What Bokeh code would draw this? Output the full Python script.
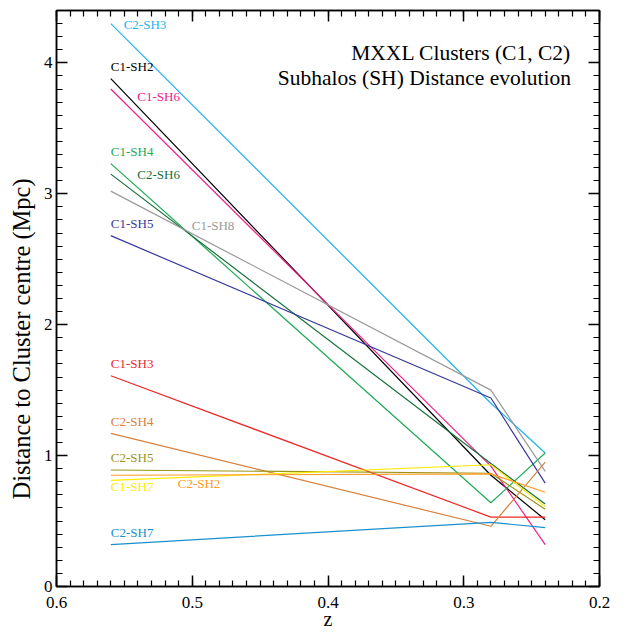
from bokeh.plotting import figure
from bokeh.models import Range1d, LinearAxis, FixedTicker, Label, Title, ColumnDataSource, CustomLabelingPolicy
from bokeh.core.properties import value
from bokeh.embed import file_html
from bokeh.resources import INLINE

# ---- data ----
redshift = [0.56, 0.28, 0.24]

c1_sh2 = [3.88, 0.85, 0.51]
c1_sh3 = [1.61, 0.53, 0.53]
c1_sh4 = [3.23, 0.64, 1.02]
c1_sh5 = [2.68, 1.44, 0.79]
c1_sh6 = [3.80, 0.92, 0.32]
c1_sh7 = [0.81, 0.93, 0.61]
c1_sh8 = [3.02, 1.50, 0.88]
c2_sh2 = [0.85, 0.86, 0.72]
c2_sh3 = [4.30, 1.40, 1.02]
c2_sh4 = [1.17, 0.46, 0.95]
c2_sh5 = [0.89, 0.865, 0.59]
c2_sh6 = [3.15, 0.94, 0.63]
c2_sh7 = [0.32, 0.49, 0.45]

names = ["C2-SH3", "C1-SH2", "C1-SH6", "C1-SH4", "C2-SH6", "C1-SH8", "C1-SH5",
         "C1-SH3", "C2-SH4", "C2-SH5", "C1-SH7", "C2-SH2", "C2-SH7"]
series = [c2_sh3, c1_sh2, c1_sh6, c1_sh4, c2_sh6, c1_sh8, c1_sh5,
          c1_sh3, c2_sh4, c2_sh5, c1_sh7, c2_sh2, c2_sh7]
colors = ["#20b4ee", "#000000", "#f0208c", "#1eaa55", "#17703c", "#9a9a9a", "#38389c",
          "#ee2828", "#d8803c", "#9c9418", "#ffea00", "#ff9a28", "#1a90cc"]

# label anchor positions (z, distance)
label_z = [0.5505, 0.56, 0.5405, 0.56, 0.5405, 0.5004, 0.56,
           0.56, 0.56, 0.56, 0.56, 0.5107, 0.56]
label_y = [4.28, 3.96, 3.73, 3.31, 3.135, 2.746, 2.758,
           1.69, 1.248, 0.969, 0.745, 0.775, 0.394]

x_ticks = [0.6, 0.5, 0.4, 0.3, 0.2]
y_ticks = [0, 1, 2, 3, 4]
x_minor = [round(0.2 + 0.01 * i, 2) for i in range(41)]
y_minor = [round(0.1 * i, 1) for i in range(45)]

x_title = "z"
y_title = "Distance to Cluster centre (Mpc)"
title_1 = "MXXL Clusters (C1, C2)"
title_2 = "Subhalos (SH) Distance evolution"

FONT = "Liberation Serif"

p = figure(frame_width=543, frame_height=576,
           min_border_left=56, min_border_right=24, min_border_top=7, min_border_bottom=0,
           x_range=Range1d(0.6, 0.2), y_range=Range1d(0, 4.4),
           output_backend="svg", toolbar_location=None)
p.xgrid.visible = False
p.ygrid.visible = False
p.outline_line_color = "black"
p.outline_line_width = 1.5
p.background_fill_color = "white"
p.border_fill_color = "white"

no_labels = CustomLabelingPolicy(code="""
const n = indices.size;
for (let i = 0; i < n; i++) { indices.unset(i); }
return indices;
""")

def style_axis(ax, ticks, minor, show_labels):
    ax.ticker = FixedTicker(ticks=ticks, minor_ticks=minor)
    ax.major_tick_in = 11
    ax.major_tick_out = 0
    ax.minor_tick_in = 6
    ax.minor_tick_out = 0
    ax.axis_line_width = 1.5
    ax.major_tick_line_width = 1.5
    ax.minor_tick_line_width = 1.2
    ax.axis_line_color = "black"
    ax.major_tick_line_color = "black"
    ax.minor_tick_line_color = "black"
    ax.major_label_text_font = FONT
    ax.major_label_text_color = "black"
    ax.axis_label_text_font = FONT
    ax.axis_label_text_font_style = "normal"
    ax.axis_label_text_color = "black"
    if not show_labels:
        ax.major_label_policy = no_labels
        ax.major_label_standoff = 0

xa = p.xaxis[0]
style_axis(xa, x_ticks, x_minor, True)
xa.major_label_text_font_size = "17px"
xa.major_label_standoff = 10
xa.major_label_overrides = {0.6: "0.6", 0.5: "0.5", 0.4: "0.4", 0.3: "0.3", 0.2: "0.2"}
xa.axis_label = x_title
xa.axis_label_text_font_size = "20px"
xa.axis_label_standoff = -3

ya = p.yaxis[0]
style_axis(ya, y_ticks, y_minor, True)
ya.major_label_text_font_size = "17px"
ya.major_label_standoff = 4

top = LinearAxis()
style_axis(top, x_ticks, x_minor, False)
p.add_layout(top, "above")
right = LinearAxis()
style_axis(right, y_ticks, y_minor, False)
p.add_layout(right, "right")

# y-axis title, shifted along the axis as in the reference
p.add_layout(Title(text=y_title, align="left", offset=87, standoff=11,
                   text_font=FONT, text_font_size="24.5px", text_font_style="normal",
                   text_color="black"), "left")

for name, vals, col in zip(names, series, colors):
    p.line(redshift, vals, line_color=col, line_width=1.2)

src = ColumnDataSource(dict(x=label_z, y=label_y, t=names, c=colors))
p.text(x="x", y="y", text="t", text_color="c", source=src,
       text_font=value(FONT), text_font_size="13px",
       text_align="left", text_baseline="middle", y_offset=-2)

p.add_layout(Label(x=0.221, y=4.060, text=title_1, y_offset=2,
                   text_font=FONT, text_font_size="21.5px", text_align="right",
                   text_baseline="middle", text_color="black"))
p.add_layout(Label(x=0.221, y=3.870, text=title_2, y_offset=2,
                   text_font=FONT, text_font_size="21.5px", text_align="right",
                   text_baseline="middle", text_color="black"))

open("out.html", "w").write(file_html(p, INLINE))
